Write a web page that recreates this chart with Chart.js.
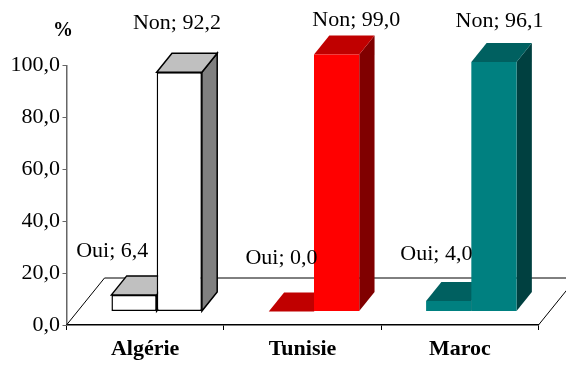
<!DOCTYPE html>
<html>
<head>
<meta charset="utf-8">
<script src="https://cdn.jsdelivr.net/npm/chart.js@4.4.0/dist/chart.umd.min.js"></script>
<style>
  html, body { margin: 0; padding: 0; background: #ffffff; }
  #wrap { width: 566px; height: 365px; }
</style>
</head>
<body>
<div id="wrap"><canvas id="chart" width="566" height="365"></canvas></div>
<script>
// Réponses (%) par pays
const countries = ['Algérie', 'Tunisie', 'Maroc'];
const seriesNames = ['Oui', 'Non'];
const ouiValues = [6.4, 0.0, 4.0];
const nonValues = [92.2, 99.0, 96.1];
const yTickValues = [0, 20, 40, 60, 80, 100];

// Couleurs des faces (avant, dessus, côté) par pays
const frontColors = ['#ffffff', '#ff0000', '#008080'];
const topColors = ['#c0c0c0', '#c00000', '#006060'];
const sideColors = ['#808080', '#800000', '#004040'];
const edgeColors = ['#000000', null, null];

const SERIF = "'Liberation Serif', 'Times New Roman', serif";

// Projection oblique : plan avant des barres, profondeur des barres, profondeur du plancher
const FRONT = { dx: 11.5, dy: -13.5 };
const DEPTH = { dx: 15.3, dy: -19 };
const FLOOR = { dx: 38, dy: -47 };

// Décalage des étiquettes par rapport au centre arrière du dessus de la barre
const labelNudge = [
  [[-29.5, -18.5], [-10, -24]],
  [[-17.5, -28.5], [12, -10]],
  [[-20, -22], [-2, -16]]
];

const fmt = v => v.toFixed(1).replace('.', ',');

function poly(ctx, pts, fill, stroke) {
  ctx.beginPath();
  ctx.moveTo(pts[0][0], pts[0][1]);
  for (let k = 1; k < pts.length; k++) ctx.lineTo(pts[k][0], pts[k][1]);
  ctx.closePath();
  if (fill) { ctx.fillStyle = fill; ctx.fill(); }
  if (stroke) { ctx.strokeStyle = stroke; ctx.lineWidth = 1.5; ctx.lineJoin = 'miter'; ctx.stroke(); }
}

const bars3d = {
  id: 'bars3d',
  beforeDatasetsDraw(chart) {
    const ctx = chart.ctx;
    const ca = chart.chartArea;
    const y0 = chart.scales.y.getPixelForValue(0);

    // plancher
    ctx.save();
    ctx.strokeStyle = '#000000';
    ctx.lineWidth = 1;
    ctx.beginPath();
    ctx.moveTo(ca.left, y0);
    ctx.lineTo(ca.left + FLOOR.dx, y0 + FLOOR.dy);
    ctx.lineTo(ca.right + FLOOR.dx, y0 + FLOOR.dy);
    ctx.lineTo(ca.right, y0);
    ctx.stroke();
    ctx.restore();

    // barres, de gauche à droite : côté, dessus, puis face avant
    const metas = [chart.getDatasetMeta(0), chart.getDatasetMeta(1)];
    for (let i = 0; i < countries.length; i++) {
      for (let d = 0; d < metas.length; d++) {
        const el = metas[d].data[i];
        const L = el.x - el.width / 2 + FRONT.dx;
        const R = el.x + el.width / 2 + FRONT.dx;
        const T = el.y + FRONT.dy;
        const B = el.base + FRONT.dy;
        const edge = edgeColors[i];
        ctx.save();
        if (B - T > 0.5) {
          poly(ctx, [[R, T], [R + DEPTH.dx, T + DEPTH.dy], [R + DEPTH.dx, B + DEPTH.dy], [R, B]], sideColors[i], edge);
        }
        poly(ctx, [[L, T], [L + DEPTH.dx, T + DEPTH.dy], [R + DEPTH.dx, T + DEPTH.dy], [R, T]], topColors[i], edge);
        ctx.translate(FRONT.dx, FRONT.dy);
        if (B - T > 0.5) el.draw(ctx);
        ctx.restore();
      }
    }
    return false;
  },
  afterDraw(chart) {
    const ctx = chart.ctx;
    ctx.save();
    ctx.fillStyle = '#000000';
    ctx.textAlign = 'center';
    ctx.textBaseline = 'alphabetic';
    ctx.font = '22px ' + SERIF;
    for (let d = 0; d < 2; d++) {
      const meta = chart.getDatasetMeta(d);
      const values = chart.data.datasets[d].data;
      meta.data.forEach((el, i) => {
        const cx = el.x + FRONT.dx + DEPTH.dx / 2;
        const cy = el.y + FRONT.dy + DEPTH.dy;
        const [nx, ny] = labelNudge[i][d];
        ctx.fillText(seriesNames[d] + '; ' + fmt(values[i]), cx + nx, cy + ny);
      });
    }
    ctx.font = 'bold 20px ' + SERIF;
    ctx.fillText('%', 63, 36);
    ctx.restore();
  }
};

new Chart(document.getElementById('chart'), {
  type: 'bar',
  data: {
    labels: countries,
    datasets: [
      {
        label: seriesNames[0],
        data: ouiValues,
        backgroundColor: frontColors,
        borderColor: edgeColors.map(c => c || 'rgba(0,0,0,0)'),
        borderWidth: edgeColors.map(c => (c ? 1.5 : 0)),
        borderSkipped: false,
        categoryPercentage: 0.575,
        barPercentage: 1.0
      },
      {
        label: seriesNames[1],
        data: nonValues,
        backgroundColor: frontColors,
        borderColor: edgeColors.map(c => c || 'rgba(0,0,0,0)'),
        borderWidth: edgeColors.map(c => (c ? 1.5 : 0)),
        borderSkipped: false,
        categoryPercentage: 0.575,
        barPercentage: 1.0
      }
    ]
  },
  options: {
    responsive: false,
    animation: false,
    devicePixelRatio: 1,
    layout: { padding: { top: 65.5, right: 27.5, left: 0, bottom: 0 } },
    plugins: {
      legend: { display: false },
      tooltip: { enabled: false }
    },
    scales: {
      x: {
        type: 'category',
        offset: true,
        afterFit: s => { s.height = 40; },
        grid: { offset: true, drawOnChartArea: false, tickLength: 5, color: '#000000', lineWidth: 1 },
        border: { display: true, color: '#000000', width: 1.5 },
        ticks: { color: '#000000', padding: 6, font: { family: SERIF, size: 22, weight: 'bold' } }
      },
      y: {
        min: 0,
        max: 100,
        afterFit: s => { s.width = 66.5; },
        afterBuildTicks: s => { s.ticks = yTickValues.map(v => ({ value: v })); },
        grid: { drawOnChartArea: false, tickLength: 4, color: '#666666', lineWidth: 1 },
        border: { display: true, color: '#666666', width: 1.5 },
        ticks: { color: '#000000', padding: 2.5, font: { family: SERIF, size: 22 }, callback: v => fmt(v) }
      }
    }
  },
  plugins: [bars3d]
});
</script>
</body>
</html>
